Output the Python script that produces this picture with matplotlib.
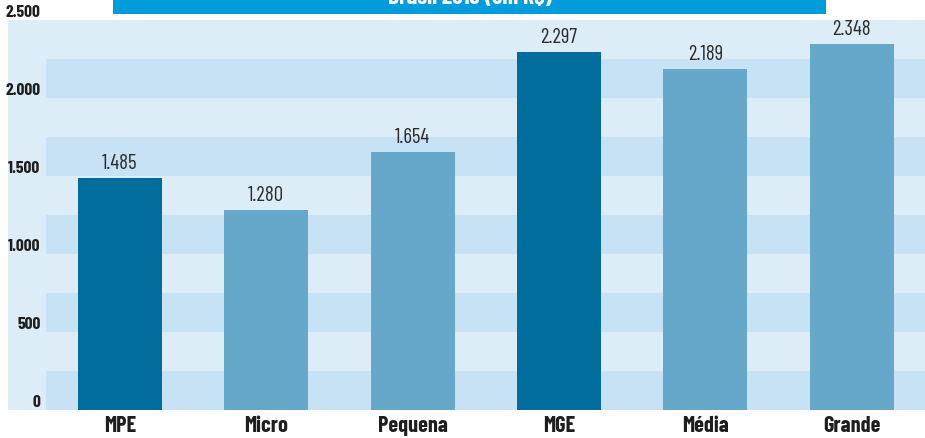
import matplotlib
matplotlib.use("Agg")
import matplotlib.pyplot as plt
from matplotlib.patches import Rectangle

categories = ["MPE", "Micro", "Pequena", "MGE", "Média", "Grande"]
values = [1485, 1280, 1654, 2297, 2189, 2348]
bar_colors = ["#006d9c", "#66a8ca", "#66a8ca", "#006d9c", "#66a8ca", "#66a8ca"]
yticks = [0, 500, 1000, 1500, 2000, 2500]
ytick_labels = ["0", "500", "1.000", "1.500", "2.000", "2.500"]
title = "Brasil 2013 (em R$)"

FAM = ["Barlow Condensed", "DejaVu Sans"]

W, H = 925, 438
fig = plt.figure(figsize=(W / 100, H / 100), dpi=100)
fig.patch.set_facecolor("white")

LIGHT = "#ddedf8"
DARK = "#c7e2f5"

fig.patches.append(Rectangle((8 / W, 1 - 410 / H), 1 - 8 / W, (410 - 20) / H,
                             transform=fig.transFigure, facecolor=LIGHT,
                             edgecolor="none", zorder=-5))
fig.patches.append(Rectangle((113 / W, 1 - 14 / H), (826 - 113) / W, 14 / H,
                             transform=fig.transFigure, facecolor="#009cdc",
                             edgecolor="none", zorder=-5))
fig.text(470 / W, 1 - 4 / H, title, color="white", fontsize=17,
         fontweight="bold", family=FAM, ha="center", va="baseline")

ax = fig.add_axes([46 / W, 1 - 410 / H, 1 - 46 / W, (410 - 20) / H])
ax.set_facecolor(LIGHT)
ax.set_xlim(-0.505, 5.5)
ax.set_ylim(0, 2500)

for lo in range(0, 2500, 500):
    ax.axhspan(lo, lo + 250, facecolor=DARK, edgecolor="none", zorder=0)

x = list(range(len(categories)))
ax.bar(x, values, width=0.574, color=bar_colors, zorder=2)

for xi, v in zip(x, values):
    ax.annotate(f"{v:,}".replace(",", "."), (xi, v), xytext=(0, 3.5),
                textcoords="offset points", ha="center", va="bottom",
                fontsize=15, fontweight="normal", color="#2b2b2b", family=FAM)

for s in ax.spines.values():
    s.set_visible(False)

ax.set_xticks(x)
ax.set_xticklabels(categories, fontsize=16, fontweight="bold",
                   family=FAM, color="#1e1e1e")
ax.tick_params(axis="x", length=0, pad=4)

ax.set_yticks(yticks)
ax.set_yticklabels(ytick_labels, fontsize=12.5, fontweight="bold",
                   family=FAM, color="#1e1e1e")
ax.tick_params(axis="y", length=0, pad=4)
for lab in ax.get_yticklabels():
    lab.set_va("bottom")

fig.savefig("out.png", dpi=100, facecolor="white")
